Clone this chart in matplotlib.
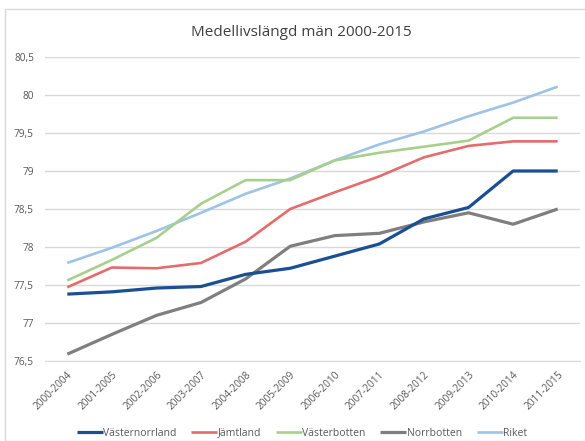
import matplotlib
matplotlib.use("Agg")
import matplotlib.pyplot as plt
from matplotlib.patches import Rectangle

plt.rcParams['font.family'] = ['Open Sans', 'DejaVu Sans']

periods = ["2000-2004", "2001-2005", "2002-2006", "2003-2007", "2004-2008", "2005-2009",
           "2006-2010", "2007-2011", "2008-2012", "2009-2013", "2010-2014", "2011-2015"]
vasternorrland = [77.38, 77.41, 77.46, 77.48, 77.64, 77.72, 77.88, 78.04, 78.37, 78.52, 79.00, 79.00]
jamtland = [77.47, 77.73, 77.72, 77.79, 78.07, 78.50, 78.72, 78.93, 79.18, 79.33, 79.39, 79.39]
vasterbotten = [77.56, 77.83, 78.12, 78.57, 78.88, 78.88, 79.14, 79.24, 79.32, 79.40, 79.70, 79.70]
norrbotten = [76.59, 76.85, 77.10, 77.27, 77.58, 78.01, 78.15, 78.18, 78.33, 78.45, 78.30, 78.50]
riket = [77.79, 77.99, 78.21, 78.45, 78.70, 78.90, 79.14, 79.35, 79.52, 79.72, 79.90, 80.11]
yticks = [76.5, 77, 77.5, 78, 78.5, 79, 79.5, 80, 80.5]
ytick_labels = ["76,5", "77", "77,5", "78", "78,5", "79", "79,5", "80", "80,5"]

series = [
    ("Västernorrland", vasternorrland, "#1b4f93", 2.3),
    ("Jämtland", jamtland, "#e46c6c", 1.9),
    ("Västerbotten", vasterbotten, "#a8d08d", 1.9),
    ("Norrbotten", norrbotten, "#7f7f7f", 2.3),
    ("Riket", riket, "#9dc3e6", 1.9),
]

fig = plt.figure(figsize=(5.85, 4.41), dpi=100)
fig.patches.append(Rectangle((5/585, 0.0), 1.0, 1 - 9/441, transform=fig.transFigure,
                             fill=False, edgecolor="#d9d9d9", linewidth=1.0))
ax = fig.add_axes([45/585, 80/441, 535/585, 304/441])

x = list(range(len(periods)))
# draw in reverse so Västernorrland is on top
for name, vals, color, lw in series[::-1]:
    ax.plot(x, vals, color=color, linewidth=lw, label=name, solid_capstyle='butt')

ax.set_xlim(-0.5, len(periods) - 0.5)
ax.set_ylim(76.5, 80.5)
ax.set_yticks(yticks)
ax.set_yticklabels(ytick_labels)
ax.set_xticks(x)
ax.set_xticklabels(periods, rotation=45, ha='right', rotation_mode='anchor')
ax.tick_params(axis='both', length=0, labelsize=7.3, colors="#595959")
ax.tick_params(axis='y', pad=8)
ax.tick_params(axis='x', pad=6)
ax.grid(axis='y', color="#d9d9d9", linewidth=1.0)
ax.set_axisbelow(True)
for s in ax.spines.values():
    s.set_visible(False)
ax.spines['bottom'].set_visible(True)
ax.spines['bottom'].set_color("#d9d9d9")

fig.text(301/585, 1 - 32/441, "Medellivslängd män 2000-2015", ha='center', va='center',
         fontsize=11, color="#404040")

handles, labels = ax.get_legend_handles_labels()
handles, labels = handles[::-1], labels[::-1]
fig.legend(handles, labels, loc='center', bbox_to_anchor=(302/585, 1 - 433/441), ncol=5,
           frameon=False, fontsize=7.5, handlelength=2.5, handletextpad=0.05, columnspacing=1.4,
           labelcolor="#595959")

fig.savefig("out.png", dpi=100)
